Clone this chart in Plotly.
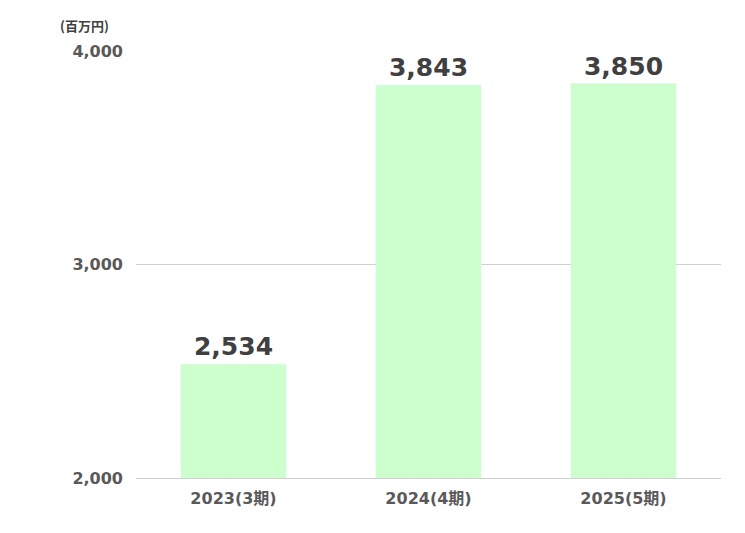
import plotly.graph_objects as go

categories = ["2023(3期)", "2024(4期)", "2025(5期)"]
values = [2534, 3843, 3850]
value_labels = ["2,534", "3,843", "3,850"]
tick_vals = [2000, 3000, 4000]
tick_text = ["2,000", "3,000", "4,000"]

font = "DejaVu Sans, Noto Sans CJK JP, sans-serif"
fig = go.Figure(go.Bar(
    x=categories, y=values, marker_color="#ccffcc", width=0.54,
    text=value_labels, textposition="outside", cliponaxis=False,
    textfont=dict(size=25, color="#404040", family=font, weight="bold"),
))
fig.update_layout(
    width=745, height=533, paper_bgcolor="white", plot_bgcolor="white",
    margin=dict(l=128, r=32, t=43, b=63), showlegend=False,
    font=dict(family=font),
    xaxis=dict(tickfont=dict(size=16, color="#595959", weight="bold"),
               showline=True, linecolor="#d0d0d0", ticks="", ticklabelstandoff=6),
    yaxis=dict(range=[2000, 4003], tickvals=tick_vals, ticktext=tick_text,
               tickfont=dict(size=16, color="#595959", weight="bold"),
               gridcolor="#d0d0d0", zeroline=False, ticklabelstandoff=12),
    annotations=[dict(text="(百万円)", x=(50-128)/585, y=(533-63-18)/427,
                      xref="paper", yref="paper",
                      xanchor="left", yanchor="middle", showarrow=False,
                      font=dict(size=13, color="#404040", weight="bold",
                                family="Noto Sans CJK JP"))],
)
fig.write_html("out.html")
